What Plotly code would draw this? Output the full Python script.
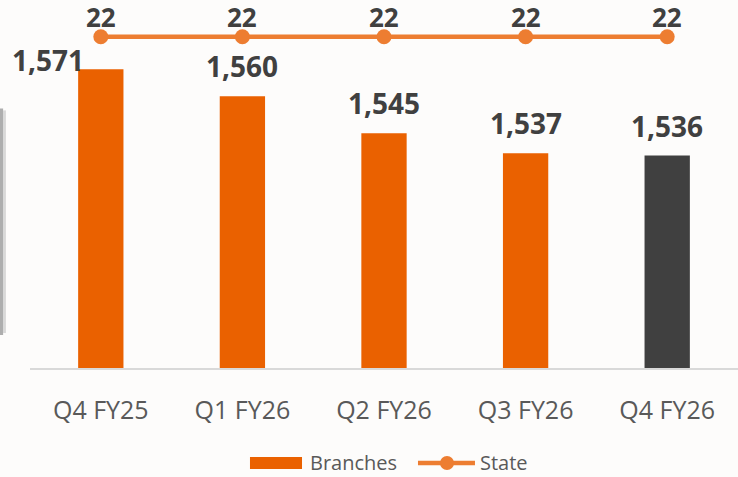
import plotly.graph_objects as go

quarters = ["Q4 FY25", "Q1 FY26", "Q2 FY26", "Q3 FY26", "Q4 FY26"]
branches = [1571, 1560, 1545, 1537, 1536]
states = [22, 22, 22, 22, 22]
bar_colors = ["#EA6100", "#EA6100", "#EA6100", "#EA6100", "#404040"]
series_names = ["Branches", "State"]

FONT = "Open Sans, Calibri, sans-serif"
LABEL_COLOR = "#404040"
BAR_COLOR = "#EA6100"
LINE_COLOR = "#ED7D31"

fig = go.Figure()
fig.add_trace(go.Bar(
    x=quarters, y=branches, name=series_names[0],
    marker=dict(color=bar_colors, line=dict(width=0)),
    yaxis="y", showlegend=False,
))
fig.add_trace(go.Scatter(
    x=quarters, y=states, name=series_names[1], mode="lines+markers",
    line=dict(color=LINE_COLOR, width=4.5),
    marker=dict(color=LINE_COLOR, size=15),
    yaxis="y2", showlegend=False,
))

annotations = []
for i, (q, v) in enumerate(zip(quarters, branches)):
    first = i == 0
    annotations.append(dict(
        x=q, y=v, xref="x", yref="y",
        text=f"{v:,}", showarrow=False,
        xanchor="center", yanchor="bottom",
        xshift=-53 if first else 0, yshift=-12 if first else 9,
        font=dict(family=FONT, size=28, color=LABEL_COLOR, weight="bold"),
    ))
for q, s in zip(quarters, states):
    annotations.append(dict(
        x=q, y=s, xref="x", yref="y2",
        text=str(s), showarrow=False,
        xanchor="center", yanchor="bottom", yshift=0,
        font=dict(family=FONT, size=26, color=LABEL_COLOR, weight="bold"),
    ))

# legend (drawn by hand to match the wide swatch style)
LEG_Y = -0.258
annotations += [
    dict(x=0.3927, y=LEG_Y, xref="paper", yref="paper", text=series_names[0],
         showarrow=False, xanchor="left", yanchor="middle",
         font=dict(family=FONT, size=20, color="#595959")),
    dict(x=0.6328, y=LEG_Y, xref="paper", yref="paper", text=series_names[1],
         showarrow=False, xanchor="left", yanchor="middle",
         font=dict(family=FONT, size=20, color="#595959")),
]

shapes = [
    # blurred slide edge at left
    dict(type="rect", xref="paper", yref="paper",
         x0=-0.05, x1=-0.038, y0=0.09, y1=0.705,
         fillcolor="#a0a0a0", line=dict(width=0), opacity=0.85, layer="above"),
    dict(type="rect", xref="paper", yref="paper",
         x0=-0.038, x1=-0.034, y0=0.095, y1=0.70,
         fillcolor="#d0d0d0", line=dict(width=0), opacity=0.8, layer="above"),
    # legend symbols
    dict(type="rect", xref="paper", yref="paper",
         x0=0.3107, x1=0.3842, y0=-0.2745, y1=-0.2418,
         fillcolor=BAR_COLOR, line=dict(width=0)),
    dict(type="line", xref="paper", yref="paper",
         x0=0.548, x1=0.6285, y0=LEG_Y, y1=LEG_Y,
         line=dict(color=LINE_COLOR, width=4.5)),
    dict(type="circle", xref="paper", yref="paper",
         xsizemode="pixel", ysizemode="pixel", xanchor=0.589, yanchor=LEG_Y,
         x0=-7, x1=7, y0=-7, y1=7,
         fillcolor=LINE_COLOR, line=dict(width=0)),
]

fig.update_layout(
    width=738, height=477,
    margin=dict(l=30, r=0, t=0, b=109),
    paper_bgcolor="#FDFCFB", plot_bgcolor="#FDFCFB",
    bargap=0.68,
    showlegend=False,
    xaxis=dict(range=[-0.5, 4.5], showline=True, linecolor="#D9D9D9", linewidth=2,
               showgrid=False, ticks="",
               tickfont=dict(family=FONT, size=25, color="#595959"),
               ticklabelstandoff=19),
    yaxis=dict(range=[1450, 1599], visible=False, showgrid=False, zeroline=False),
    yaxis2=dict(range=[0, 24.44], overlaying="y", visible=False, showgrid=False,
                zeroline=False),
    annotations=annotations,
    shapes=shapes,
)

fig.write_html("out.html", config={"displayModeBar": False},
               post_script="document.body.style.margin='0';document.body.style.padding='0';")
